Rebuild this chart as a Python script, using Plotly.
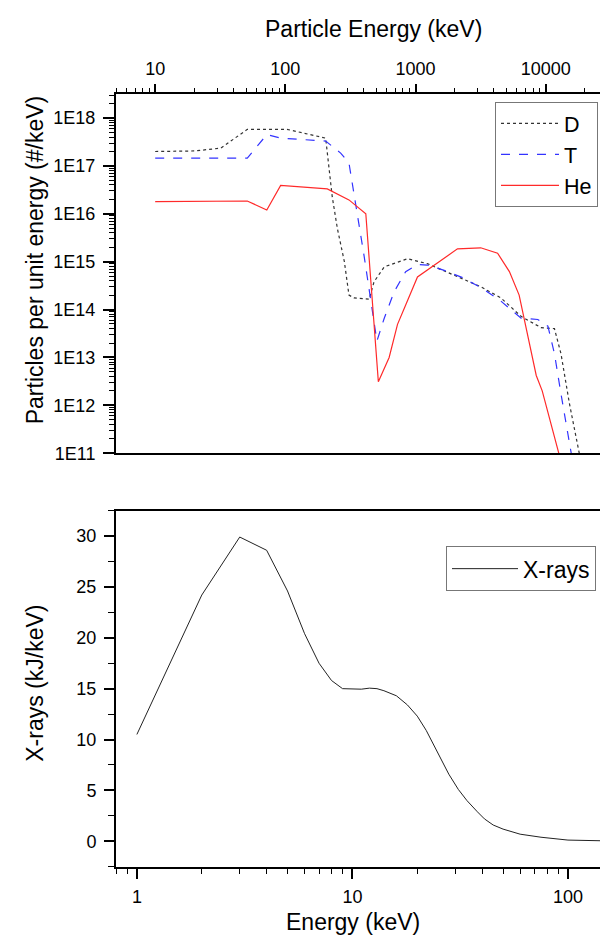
import numpy as np
import plotly.graph_objects as go

# ---------------- data ----------------
# Top panel: particle spectra (energy keV, particles per keV)
d_energy = [10, 20, 32, 51, 103, 204, 229, 251, 284, 308, 337, 441, 480, 575, 868, 1232,
            1983, 3165, 4530, 6470, 9200, 11670, 13100, 15200, 18100, 19500]
d_counts = [2.0e17, 2.05e17, 2.35e17, 5.8e17, 5.8e17, 3.8e17, 2.3e16, 4.9e15, 1.0e15, 2.0e14,
            1.75e14, 1.65e14, 3.8e14, 7.8e14, 1.15e15, 9.1e14, 5.2e14, 3.0e14, 1.75e14, 7.2e13,
            4.2e13, 4.0e13, 1.2e13, 1.1e12, 1.0e11, 5e10]

t_energy = [10, 51, 72, 92, 204, 266, 308, 337, 402, 505, 575, 685, 840, 1035, 1232, 1660,
            2360, 3375, 4530, 6470, 8700, 10400, 11670, 13100, 15700]
t_counts = [1.45e17, 1.45e17, 4.5e17, 3.8e17, 3.3e17, 1.85e17, 1.15e17, 2.75e16, 1.35e15,
            2.2e13, 6.6e13, 2.35e14, 6.2e14, 8.7e14, 8.5e14, 6.6e14, 4.5e14, 2.6e14, 1.5e14,
            6.6e13, 6.2e13, 4.5e13, 1.2e13, 1.75e12, 1.0e11]

he_energy = [10, 51, 72, 92, 210, 308, 415, 518, 627, 727, 840, 1035, 2100, 3165, 4270, 5260,
             6250, 7220, 8460, 9400, 10900, 12600]
he_counts = [1.8e16, 1.85e16, 1.2e16, 3.9e16, 3.3e16, 1.95e16, 1.0e16, 3.1e12, 1.0e13, 4.9e13,
             1.25e14, 4.8e14, 1.85e15, 1.95e15, 1.5e15, 6.2e14, 2.0e14, 3.0e13, 4.2e12, 2.0e12,
             4.2e11, 1.0e11]

# Bottom panel: X-ray spectrum (energy keV, kJ/keV)
xr_energy = [1, 2, 3, 4, 5, 6, 7, 8, 9, 10, 11, 12, 13, 14, 16, 18, 20, 22, 24, 26, 28, 31,
             34, 38, 41, 45, 50, 60, 75, 100, 130, 170]
xr_value = [10.5, 24.2, 29.9, 28.6, 24.6, 20.4, 17.5, 15.8, 15.0, 14.95, 14.95, 15.05, 15.0,
            14.8, 14.3, 13.4, 12.3, 10.9, 9.4, 7.9, 6.6, 5.1, 4.0, 2.9, 2.2, 1.6, 1.2, 0.7,
            0.4, 0.12, 0.05, 0.02]

# tick labels
top_x_ticks = [10, 100, 1000, 10000]
top_y_ticks = [1e11, 1e12, 1e13, 1e14, 1e15, 1e16, 1e17, 1e18]
top_y_labels = ["1E11", "1E12", "1E13", "1E14", "1E15", "1E16", "1E17", "1E18"]
bot_x_ticks = [1, 10, 100]
bot_y_ticks = [0, 5, 10, 15, 20, 25, 30]

# ---------------- figure ----------------
W, H = 608, 938
FONT = "Arial, Liberation Sans, sans-serif"

def px(x):
    return x / W

def py(y):
    return (H - y) / H

def log_minor(lo, hi):
    vals = []
    for e in range(lo, hi + 1):
        for m in range(2, 10):
            vals.append(m * 10.0 ** e)
    return vals

fig = go.Figure()

fig.add_trace(go.Scatter(x=d_energy, y=d_counts, mode="lines", name="D",
                         line=dict(color="#333333", width=1.2, dash="dot"),
                         xaxis="x2", yaxis="y2", legend="legend"))
fig.add_trace(go.Scatter(x=t_energy, y=t_counts, mode="lines", name="T",
                         line=dict(color="#3333ff", width=1.2, dash="dash"),
                         xaxis="x2", yaxis="y2", legend="legend"))
fig.add_trace(go.Scatter(x=he_energy, y=he_counts, mode="lines", name="He",
                         line=dict(color="#ff2a2a", width=1.2),
                         xaxis="x2", yaxis="y2", legend="legend"))
fig.add_trace(go.Scatter(x=xr_energy, y=xr_value, mode="lines", name="X-rays",
                         line=dict(color="#222222", width=1),
                         xaxis="x", yaxis="y", legend="legend2"))

tickfont = dict(family=FONT, size=18, color="black")
common = dict(showgrid=False, zeroline=False, showline=True, linecolor="black",
              linewidth=2, ticks="outside", tickcolor="black", tickwidth=1.5,
              tickfont=tickfont)

x_dom = [px(108), 1.0]

fig.update_layout(
    width=W, height=H,
    margin=dict(l=0, r=0, t=0, b=0),
    paper_bgcolor="white", plot_bgcolor="white",
    font=dict(family=FONT, color="black"),
    # top panel
    xaxis2=dict(common, type="log", domain=x_dom, anchor="y2", side="top",
                range=[np.log10(5), 4.54], tickvals=top_x_ticks,
                ticktext=[str(v) for v in top_x_ticks], ticklen=8, mirror=True,
                ticklabelstandoff=2,
                minor=dict(tickmode="array", tickvals=log_minor(0, 4), ticks="outside",
                           ticklen=4, tickcolor="black", tickwidth=1, showgrid=False)),
    yaxis2=dict(common, type="log", domain=[py(450), py(87)], anchor="x2",
                range=[11, 18.5], tickvals=top_y_ticks, ticktext=top_y_labels,
                ticklen=11, ticklabelstandoff=4,
                minor=dict(tickmode="array", tickvals=log_minor(11, 18), ticks="outside",
                           ticklen=5, tickcolor="black", tickwidth=1, showgrid=False)),
    # bottom panel
    xaxis=dict(common, type="log", domain=x_dom, anchor="y",
               range=[np.log10(0.8), 2.223], tickvals=bot_x_ticks,
               ticktext=[str(v) for v in bot_x_ticks], ticklen=10, mirror=True,
               ticklabelstandoff=3,
               minor=dict(tickmode="array", tickvals=log_minor(-1, 2), ticks="outside",
                          ticklen=5, tickcolor="black", tickwidth=1, showgrid=False)),
    yaxis=dict(common, domain=[py(868), py(508)], anchor="x",
               range=[-2.5, 32.5], tickvals=bot_y_ticks, ticklen=10,
               ticklabelstandoff=4,
               minor=dict(tickmode="array", tickvals=[2.5, 7.5, 12.5, 17.5, 22.5, 27.5, -2.5, 32.5],
                          ticks="outside", ticklen=6, tickcolor="black", tickwidth=1,
                          showgrid=False)),
    legend=dict(x=px(487), y=py(95), xanchor="left", yanchor="top",
                bordercolor="#777777", borderwidth=1, bgcolor="white",
                font=dict(family=FONT, size=21.5, color="black"),
                tracegroupgap=0, itemwidth=58),
    legend2=dict(x=px(438), y=py(544), xanchor="left", yanchor="top",
                 bordercolor="#777777", borderwidth=1, bgcolor="white",
                 font=dict(family=FONT, size=23, color="black"), itemwidth=66),
    showlegend=True,
)

title_font = dict(family=FONT, size=23, color="black")
fig.add_annotation(text="Particle Energy (keV)", x=px(365), y=py(21), xref="paper",
                   yref="paper", showarrow=False, font=title_font,
                   xanchor="center", yanchor="middle")
fig.add_annotation(text="Energy (keV)", x=px(345), y=py(924), xref="paper",
                   yref="paper", showarrow=False, font=title_font,
                   xanchor="center", yanchor="middle")
fig.add_annotation(text="Particles per unit energy (#/keV)", x=px(27), y=py(255),
                   xref="paper", yref="paper", showarrow=False, textangle=-90,
                   font=title_font, xanchor="center", yanchor="middle")
fig.add_annotation(text="X-rays (kJ/keV)", x=px(27), y=py(683), xref="paper",
                   yref="paper", showarrow=False, textangle=-90, font=title_font,
                   xanchor="center", yanchor="middle")

fig.write_html("out.html")
